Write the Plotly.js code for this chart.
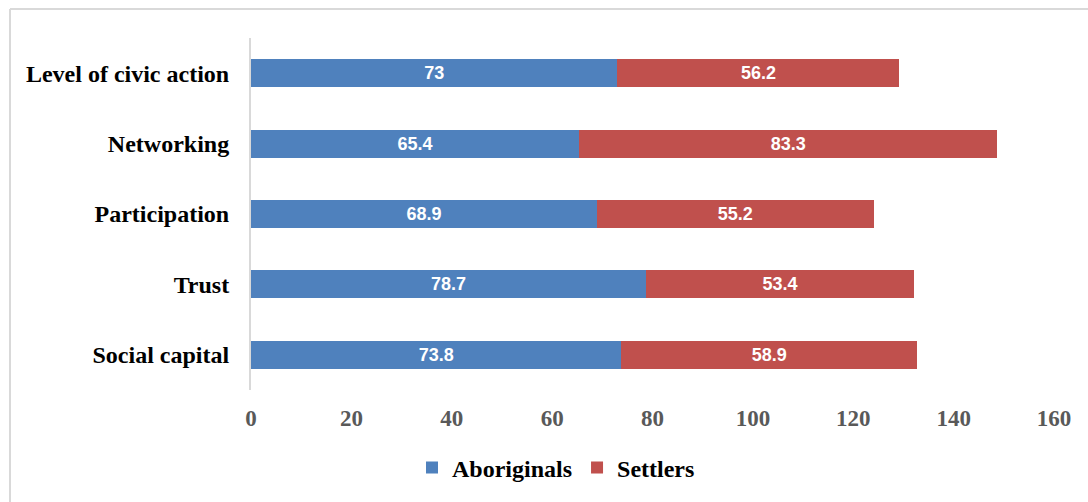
<!DOCTYPE html>
<html>
<head>
<meta charset="utf-8">
<script src="https://cdn.plot.ly/plotly-3.0.1.min.js"></script>
<style>html,body{margin:0;padding:0;background:#fff;}#chart{width:1088px;height:502px;}</style>
</head>
<body>
<div id="chart"></div>
<script>
// Categories listed bottom to top
const categories = ["Social capital", "Trust", "Participation", "Networking", "Level of civic action"];
const aboriginals = [73.8, 78.7, 68.9, 65.4, 73];
const settlers = [58.9, 53.4, 55.2, 83.3, 56.2];
const xTicks = [0, 20, 40, 60, 80, 100, 120, 140, 160];

const labelFont = {family: "Liberation Sans, Arial, sans-serif", size: 18, color: "#ffffff", weight: "bold"};
const serif = "Liberation Serif, Times New Roman, serif";

const traces = [
  {
    type: "bar", orientation: "h", name: "Aboriginals",
    y: categories, x: aboriginals,
    marker: {color: "#4F81BD"},
    text: aboriginals.map(String), textposition: "inside", insidetextanchor: "middle",
    textfont: labelFont, hoverinfo: "x+y"
  },
  {
    type: "bar", orientation: "h", name: "Settlers",
    y: categories, x: settlers,
    marker: {color: "#C0504D"},
    text: settlers.map(String), textposition: "inside", insidetextanchor: "middle",
    textfont: labelFont, hoverinfo: "x+y"
  }
];

const L = 251, R = 1054, T = 38, B = 390, W = 1088, H = 502;
const px2x = p => (p - L) / (R - L);
const py2y = p => (B - p) / (B - T);

const layout = {
  width: W, height: H,
  margin: {l: L, r: W - R, t: T, b: H - B, pad: 0},
  paper_bgcolor: "#ffffff", plot_bgcolor: "#ffffff",
  barmode: "stack", bargap: 0.6,
  showlegend: true,
  legend: {
    orientation: "h", x: px2x(556), xanchor: "center", y: py2y(468), yanchor: "middle",
    font: {family: serif, size: 24, color: "#000000", weight: "bold"},
    traceorder: "normal", itemwidth: 30
  },
  xaxis: {
    range: [0, 160], tickvals: xTicks, ticktext: xTicks.map(String),
    showgrid: false, zeroline: false, showline: false, ticks: "",
    ticklabelstandoff: 12,
    tickfont: {family: serif, size: 23, color: "#595959", weight: "bold"},
    fixedrange: true
  },
  yaxis: {
    showgrid: false, zeroline: false, showline: true, linecolor: "#d9d9d9", linewidth: 2,
    ticks: "", ticklabelstandoff: 15,
    tickfont: {family: serif, size: 24, color: "#000000", weight: "bold"},
    fixedrange: true
  },
  shapes: [
    {type: "line", xref: "paper", yref: "paper", x0: px2x(10), x1: px2x(1095), y0: py2y(9), y1: py2y(9), line: {color: "#d9d9d9", width: 2}},
    {type: "line", xref: "paper", yref: "paper", x0: px2x(10), x1: px2x(10), y0: py2y(9), y1: py2y(510), line: {color: "#d9d9d9", width: 2}}
  ]
};

Plotly.newPlot("chart", traces, layout, {displayModeBar: false, staticPlot: true});
</script>
</body>
</html>
